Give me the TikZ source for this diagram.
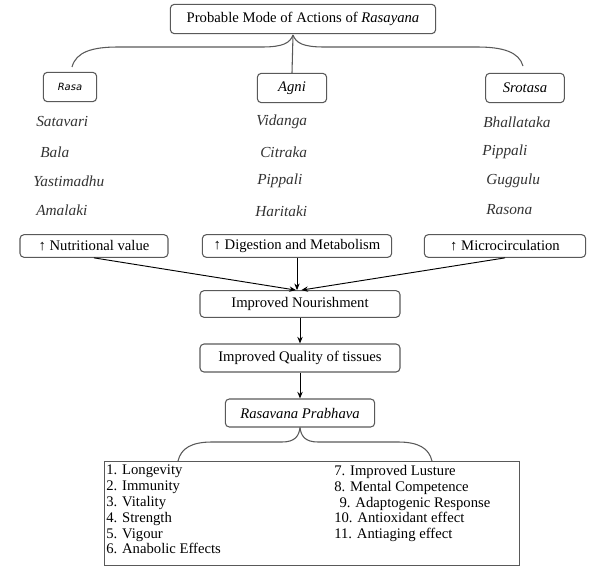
\documentclass[tikz,border=0pt]{standalone}
\usepackage{fontspec}
\setmainfont{Liberation Serif}
\newfontfamily\rasafont{DejaVu Sans}
\usetikzlibrary{arrows.meta}

\begin{document}
\begin{tikzpicture}[x=0.75pt,y=-0.75pt,
  box/.style={draw=black!65,rounded corners=3pt,line width=0.8pt,inner sep=1pt,font=\fontsize{11}{13}\selectfont},
  herb/.style={anchor=west,inner sep=0pt,font=\fontsize{11.5}{13}\selectfont\itshape,text=black!80},
  arr/.style={-{Stealth[length=5pt,width=4pt]},line width=0.7pt},
  brace/.style={draw=black!65,line width=0.8pt}]
  \useasboundingbox (0,0) rectangle (607,567);

  \node[box,minimum width=199pt,minimum height=22pt] (title) at (303,19) {Probable Mode of Actions of \textit{Rasayana}};

  \node[box,minimum width=40pt,minimum height=22pt,font=\rasafont\fontsize{7.5}{9}\selectfont\itshape] (rasa) at (70,87) {Rasa};
  \node[box,minimum width=52pt,minimum height=22pt,font=\fontsize{11}{13}\selectfont\itshape] (agni) at (292,88) {Agni};
  \node[box,minimum width=59pt,minimum height=22pt,font=\fontsize{11}{13}\selectfont\itshape] (srotasa) at (525,88) {Srotasa};

  % top brace
  \coordinate (tip) at (293,35);
  \coordinate (bl) at (72,67);
  \coordinate (br) at (523,66);
  \draw[brace] (bl) .. controls (76,52) and (92,47) .. (118,47) -- (262,47) .. controls (283,47) and (290,43) .. (tip);
  \draw[brace] (br) .. controls (519,52) and (503,47) .. (477,47) -- (324,47) .. controls (303,47) and (296,43) .. (tip);
  \draw[brace] (tip) -- (agni.north);

  % herbs
  \node[herb] (satavari) at (36,122) {Satavari};
  \node[herb] (bala) at (40,152) {Bala};
  \node[herb] (yasti) at (33,181) {Yastimadhu};
  \node[herb] (amalaki) at (36,210) {Amalaki};
  \node[herb] (vidanga) at (256,122) {Vidanga};
  \node[herb] (citraka) at (260,152) {Citraka};
  \node[herb] (pippaliA) at (257,181) {Pippali};
  \node[herb] (haritaki) at (255,211) {Haritaki};
  \node[herb] (bhallataka) at (483,122) {Bhallataka};
  \node[herb] (pippaliS) at (482,152) {Pippali};
  \node[herb] (guggulu) at (486,181) {Guggulu};
  \node[herb] (rasona) at (486,210) {Rasona};

  \node[box,minimum width=111pt,minimum height=17pt] (nutri) at (94,246) {↑ Nutritional value};
  \node[box,minimum width=142pt,minimum height=17pt] (digest) at (297,246) {↑ Digestion and Metabolism};
  \node[box,minimum width=121pt,minimum height=17pt] (micro) at (505,246) {↑ Microcirculation};

  \node[box,minimum width=150pt,minimum height=20pt] (nourish) at (300,304) {Improved Nourishment};
  \node[box,minimum width=150pt,minimum height=21pt] (quality) at (300,358) {Improved Quality of tissues};
  \node[box,minimum width=112pt,minimum height=21pt,font=\fontsize{11}{13}\selectfont\itshape] (prab) at (300,413) {Rasavana Prabhava};

  \draw[arr] (nutri.south) -- ([xshift=-3pt]nourish.north);
  \draw[arr] (digest.south) -- (digest.south |- nourish.north);
  \draw[arr] (micro.south) -- ([xshift=1pt]nourish.north);
  \draw[arr] (nourish) -- (quality);
  \draw[arr] (quality) -- (prab);

  % bottom brace
  \coordinate (ll) at (178,461);
  \coordinate (lr) at (432,461);
  \draw[brace] (ll) .. controls (181,448) and (192,442) .. (212,442) -- (282,442) .. controls (295,442) and (299,436) .. (prab.south);
  \draw[brace] (lr) .. controls (429,448) and (418,442) .. (398,442) -- (318,442) .. controls (305,442) and (301,436) .. (prab.south);

  \node[draw=black!65,line width=0.8pt,minimum width=311pt,minimum height=78pt,anchor=north west,inner sep=0pt] (effects) at (104,461) {};
  \node[anchor=north west,align=left,inner sep=0pt,font=\fontsize{11}{11.85}\selectfont] (colA) at (106,465) {1. Longevity\\2. Immunity\\3. Vitality\\4. Strength\\5. Vigour\\6. Anabolic Effects};
  \node[anchor=north west,align=left,inner sep=0pt,font=\fontsize{11}{11.85}\selectfont] (colB) at (334,465) {7. Improved Lusture\\8. Mental Competence\\\hspace{4pt}9. Adaptogenic Response\\10. Antioxidant effect\\11. Antiaging effect};
\end{tikzpicture}
\end{document}
